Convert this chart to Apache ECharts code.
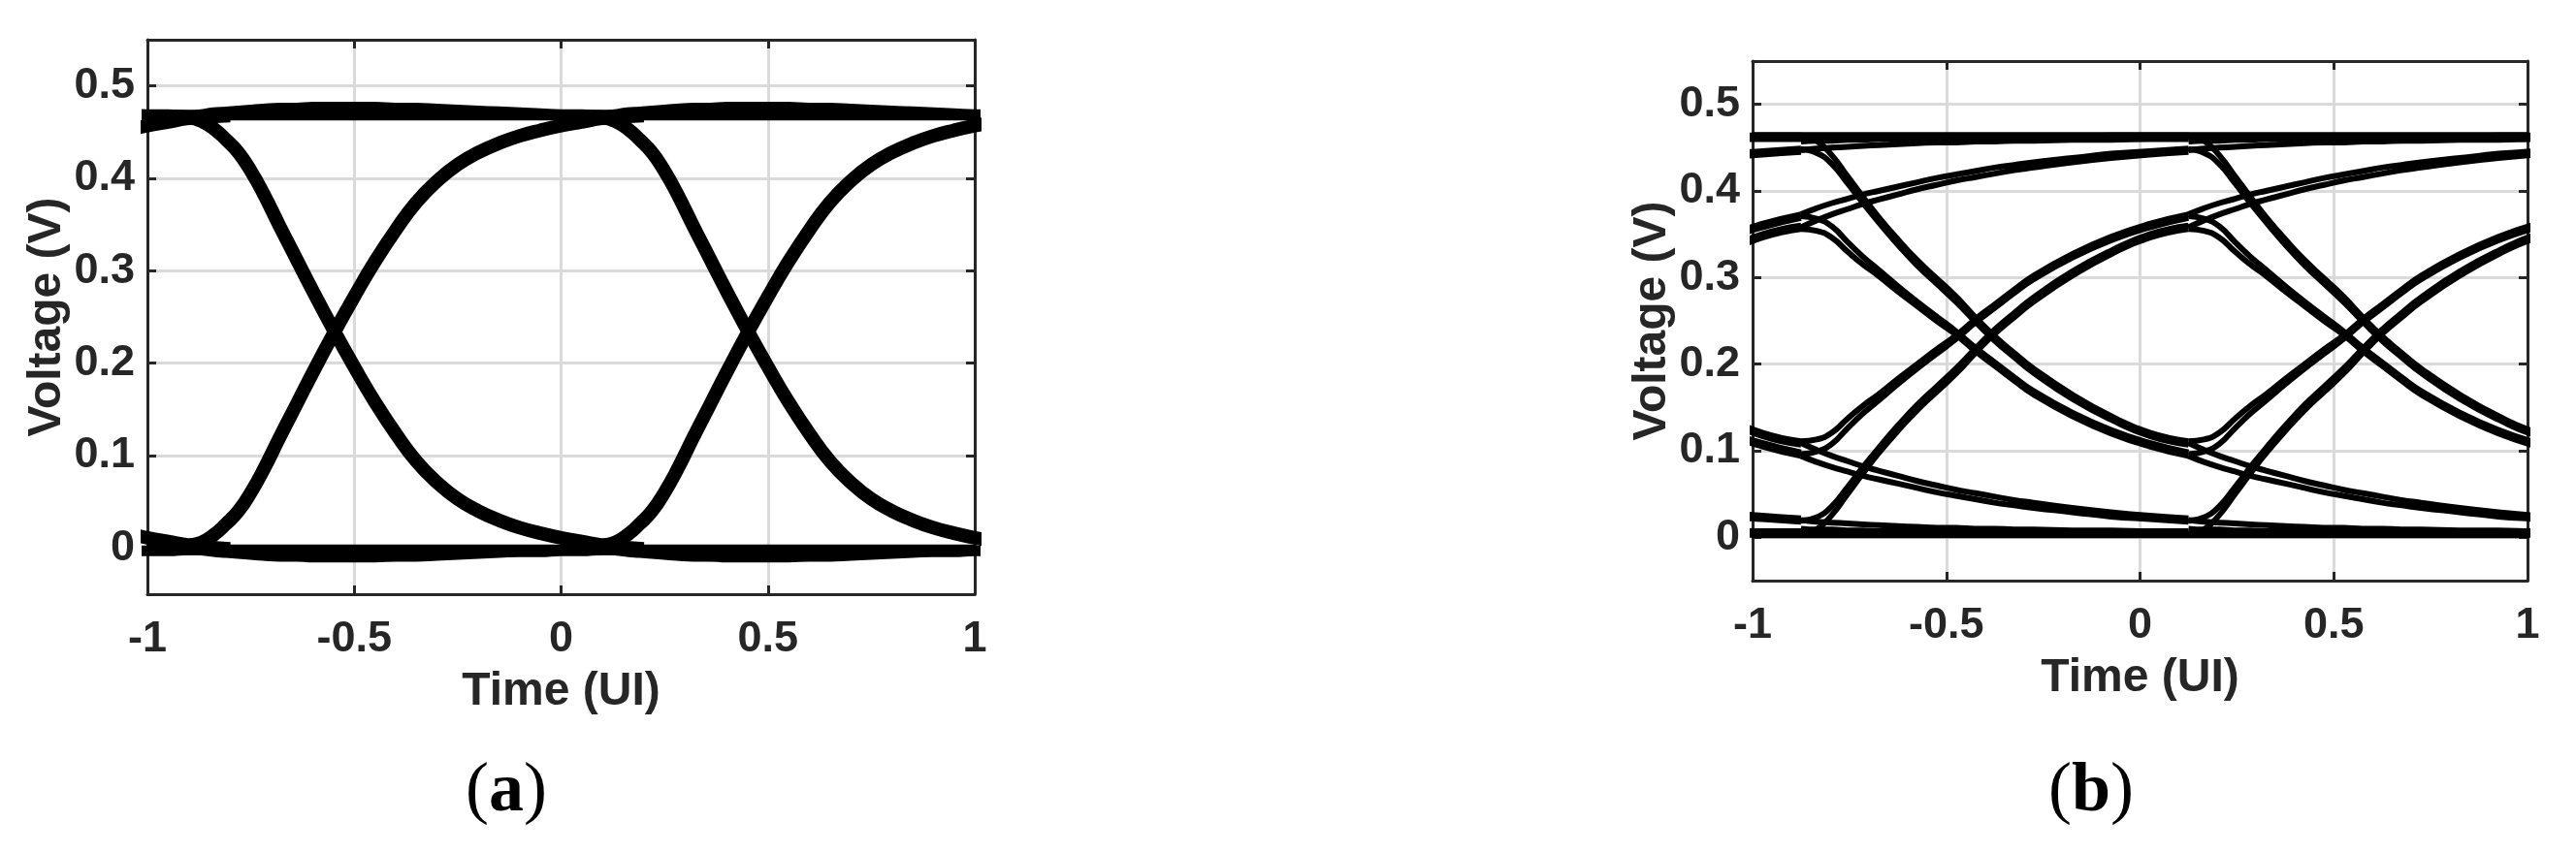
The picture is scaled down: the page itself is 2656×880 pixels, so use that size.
<!DOCTYPE html>
<html>
<head>
<meta charset="utf-8">
<title>Eye diagrams</title>
<script src="https://cdn.jsdelivr.net/npm/echarts@6/dist/echarts.min.js"></script>
<style>
  html, body { margin: 0; padding: 0; background: #fff; }
  #chart { width: 2656px; height: 880px; }
</style>
</head>
<body>
<div id="chart"></div>
<script>
// tick values shared by both panels
const timeTicks = [-1, -0.5, 0, 0.5, 1]
const voltTicks = [0, 0.1, 0.2, 0.3, 0.4, 0.5]

// ---- panel (a) ----
// each trace is one bit period, t = UI after the edge starts; drawn at every start
const startsA = [-1.9, -0.9, 0.1]
const tA = [0, 0.03, 0.06, 0.09, 0.12, 0.15, 0.18, 0.22, 0.26, 0.3, 0.35, 0.4, 0.45, 0.5, 0.55, 0.6, 0.65, 0.7, 0.75, 0.8, 0.85, 0.9, 0.95, 1.0, 1.1]
const riseA = [0.003, 0.006, 0.014, 0.026, 0.04, 0.06, 0.084, 0.12, 0.155, 0.19, 0.232, 0.272, 0.31, 0.344, 0.374, 0.397, 0.415, 0.428, 0.438, 0.446, 0.452, 0.457, 0.461, 0.465, 0.468]
const fallA = [0.466, 0.462, 0.454, 0.442, 0.428, 0.408, 0.384, 0.348, 0.313, 0.278, 0.236, 0.196, 0.158, 0.124, 0.094, 0.071, 0.053, 0.04, 0.03, 0.022, 0.016, 0.011, 0.007, 0.003, -0.001]
const topBulgeA = [0.467, 0.469, 0.471, 0.472, 0.473, 0.474, 0.475, 0.476, 0.476, 0.477, 0.477, 0.477, 0.477, 0.476, 0.476, 0.475, 0.474, 0.473, 0.472, 0.471, 0.47, 0.469, 0.469, 0.468, 0.468]
const botBulgeA = [0.0, -0.002, -0.004, -0.005, -0.006, -0.007, -0.008, -0.009, -0.009, -0.01, -0.01, -0.01, -0.01, -0.009, -0.009, -0.008, -0.007, -0.006, -0.005, -0.004, -0.004, -0.003, -0.003, -0.002, -0.002]
const railsA = [0.4685, -0.002]

// ---- panel (b) ----
const startsB = [-1.875, -0.875, 0.125]
const tB = [0, 0.04, 0.08, 0.12, 0.16, 0.2, 0.25, 0.3, 0.35, 0.4, 0.45, 0.5, 0.55, 0.6, 0.7, 0.8, 0.9, 1.0]
// rising edges from the bottom and from the troughs
const riseBot1 = [0.003, 0.009, 0.026, 0.05, 0.074, 0.097, 0.123, 0.147, 0.168, 0.189, 0.213, 0.235, 0.254, 0.272, 0.302, 0.327, 0.346, 0.356]
const riseBot2 = [0.019, 0.023, 0.036, 0.058, 0.081, 0.103, 0.129, 0.153, 0.174, 0.195, 0.218, 0.24, 0.259, 0.277, 0.307, 0.331, 0.35, 0.36]
const riseTr1 = [0.111, 0.113, 0.121, 0.137, 0.152, 0.165, 0.183, 0.2, 0.217, 0.233, 0.252, 0.269, 0.286, 0.302, 0.327, 0.347, 0.362, 0.373]
const riseTr2 = [0.096, 0.099, 0.108, 0.126, 0.143, 0.158, 0.177, 0.195, 0.212, 0.229, 0.248, 0.265, 0.282, 0.298, 0.323, 0.343, 0.358, 0.369]
// falling edges from the top and from the peaks
const fallTop1 = [0.464, 0.458, 0.441, 0.417, 0.393, 0.37, 0.344, 0.32, 0.299, 0.278, 0.254, 0.232, 0.213, 0.195, 0.165, 0.14, 0.121, 0.111]
const fallTop2 = [0.448, 0.444, 0.431, 0.409, 0.386, 0.364, 0.338, 0.314, 0.293, 0.272, 0.249, 0.227, 0.208, 0.19, 0.16, 0.136, 0.117, 0.107]
const fallPk1 = [0.356, 0.354, 0.346, 0.33, 0.315, 0.302, 0.284, 0.267, 0.25, 0.234, 0.215, 0.198, 0.181, 0.165, 0.14, 0.12, 0.105, 0.094]
const fallPk2 = [0.371, 0.368, 0.359, 0.341, 0.324, 0.309, 0.29, 0.272, 0.255, 0.238, 0.219, 0.202, 0.185, 0.169, 0.144, 0.124, 0.109, 0.098]
// slow settling (same bit repeated)
const upTail1 = [0.373, 0.38, 0.386, 0.391, 0.396, 0.4, 0.405, 0.41, 0.415, 0.419, 0.423, 0.427, 0.43, 0.433, 0.438, 0.443, 0.446, 0.449]
const upTail2 = [0.358, 0.366, 0.373, 0.379, 0.385, 0.39, 0.396, 0.402, 0.407, 0.412, 0.416, 0.42, 0.424, 0.427, 0.433, 0.438, 0.442, 0.445]
const upTail3 = [0.447, 0.449, 0.45, 0.451, 0.452, 0.453, 0.454, 0.455, 0.456, 0.456, 0.457, 0.457, 0.458, 0.458, 0.459, 0.459, 0.46, 0.46]
const upTail4 = [0.457, 0.458, 0.458, 0.459, 0.459, 0.46, 0.46, 0.461, 0.461, 0.462, 0.462, 0.462, 0.463, 0.463, 0.463, 0.464, 0.464, 0.464]
const downTail1 = [0.094, 0.087, 0.081, 0.076, 0.071, 0.067, 0.062, 0.057, 0.052, 0.048, 0.044, 0.04, 0.037, 0.034, 0.029, 0.024, 0.021, 0.018]
const downTail2 = [0.109, 0.101, 0.094, 0.088, 0.082, 0.077, 0.071, 0.065, 0.06, 0.055, 0.051, 0.047, 0.043, 0.04, 0.034, 0.029, 0.025, 0.022]
const downTail3 = [0.02, 0.018, 0.017, 0.016, 0.015, 0.014, 0.013, 0.012, 0.011, 0.011, 0.01, 0.01, 0.009, 0.009, 0.008, 0.008, 0.007, 0.007]
const downTail4 = [0.01, 0.009, 0.009, 0.008, 0.008, 0.007, 0.007, 0.006, 0.006, 0.005, 0.005, 0.005, 0.004, 0.004, 0.004, 0.003, 0.003, 0.003]
const railsB = [0.464, 0.003]

const FONT = "'Liberation Sans', Arial, sans-serif"
const INK = '#262626'

function traces(starts, t, profiles, width, axis) {
  const out = []
  starts.forEach(s => {
    profiles.forEach(p => {
      out.push({
        type: 'line',
        xAxisIndex: axis,
        yAxisIndex: axis,
        data: t.map((v, i) => [s + v, p[i]]),
        showSymbol: false,
        smooth: 0.5,
        silent: true,
        lineStyle: { color: '#000', width: width, join: 'round', cap: 'butt' }
      })
    })
  })
  return out
}

function rails(values, width, axis) {
  return values.map(v => ({
    type: 'line',
    xAxisIndex: axis,
    yAxisIndex: axis,
    data: [[-1, v], [1, v]],
    showSymbol: false,
    silent: true,
    lineStyle: { color: '#000', width: width }
  }))
}

const frameLine = { show: true, onZero: false, lineStyle: { color: INK, width: 3 } }
const tick = { show: true, inside: true, length: 9, lineStyle: { color: INK, width: 3 } }
const grid = { show: true, lineStyle: { color: '#dadada', width: 3 } }
const tickFont = { fontSize: 45, fontWeight: 'bold', color: INK, fontFamily: FONT }
const nameFont = { fontSize: 48, fontWeight: 'bold', color: INK, fontFamily: FONT }

function xAxes(g) {
  return [
    {
      type: 'value', gridIndex: g, position: 'bottom', min: -1, max: 1, interval: 0.5,
      axisLine: frameLine, axisTick: tick, splitLine: grid,
      axisLabel: Object.assign({ margin: 24, formatter: v => String(v) }, tickFont),
      name: 'Time (UI)', nameLocation: 'middle', nameGap: 77, nameTextStyle: nameFont
    },
    {
      type: 'value', gridIndex: g, position: 'top', min: -1, max: 1, interval: 0.5,
      axisLine: frameLine, axisTick: tick, axisLabel: { show: false }, splitLine: { show: false }
    }
  ]
}

function yAxes(g) {
  return [
    {
      type: 'value', gridIndex: g, position: 'left', min: -0.05, max: 0.55,
      axisLine: frameLine,
      axisTick: Object.assign({ customValues: voltTicks }, tick),
      splitLine: grid,
      axisLabel: Object.assign({ customValues: voltTicks, margin: 13, formatter: v => String(v) }, tickFont),
      name: 'Voltage (V)', nameLocation: 'middle', nameGap: 73, nameTextStyle: nameFont
    },
    {
      type: 'value', gridIndex: g, position: 'right', min: -0.05, max: 0.55,
      axisLine: frameLine,
      axisTick: Object.assign({ customValues: voltTicks }, tick),
      axisLabel: { show: false }, splitLine: { show: false }
    }
  ]
}

function caption(x, letter) {
  return {
    type: 'text', x: x, y: 817,
    style: {
      text: '{p|(}{l|' + letter + '}{p|)}',
      align: 'center', verticalAlign: 'middle',
      rich: {
        p: { fontSize: 72, fontFamily: "'Liberation Serif', serif", fill: '#000', color: '#000' },
        l: { fontSize: 72, fontWeight: 'bold', fontFamily: "'Liberation Serif', serif", fill: '#000', color: '#000' }
      }
    }
  }
}

const chart = echarts.init(document.getElementById('chart'))

const series = [].concat(
  rails(railsA, 11, 0),
  traces(startsA, tA, [topBulgeA, botBulgeA], 11, 0),
  traces(startsA, tA, [riseA, fallA], 14, 0),
  rails(railsB, 7, 2),
  traces(startsB, tB, [upTail1, upTail2, upTail3, upTail4, downTail1, downTail2, downTail3, downTail4], 6, 2),
  traces(startsB, tB, [riseBot1, riseBot2, riseTr1, riseTr2, fallTop1, fallTop2, fallPk1, fallPk2], 6, 2)
)

chart.setOption({
  animation: false,
  backgroundColor: '#fff',
  grid: [
    { left: 152, top: 41, width: 853, height: 572 },
    { left: 1807, top: 63, width: 799, height: 536 }
  ],
  xAxis: [].concat(xAxes(0), xAxes(1)),
  yAxis: [].concat(yAxes(0), yAxes(1)),
  graphic: [caption(522, 'a'), caption(2156, 'b')],
  series: series
})
</script>
</body>
</html>
